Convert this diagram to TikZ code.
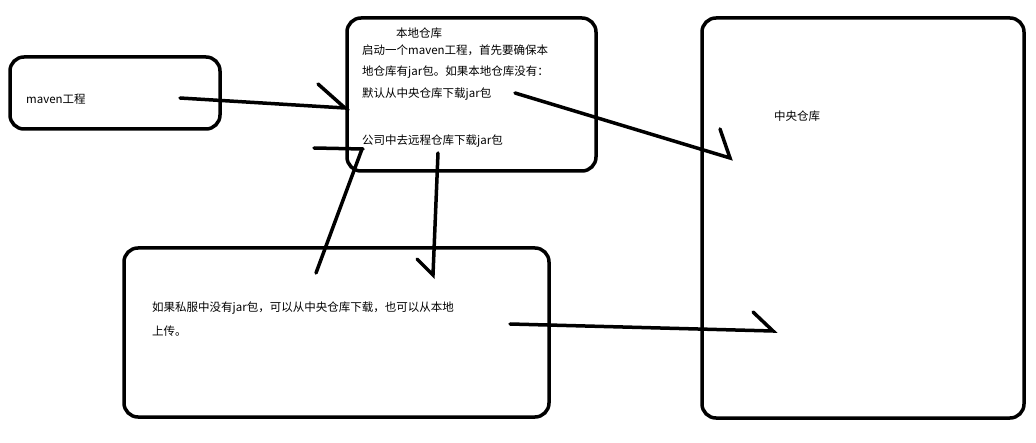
\documentclass[tikz,border=0pt]{standalone}
\usepackage{fontspec}
\setmainfont{Noto Sans CJK SC}
\begin{document}
\begin{tikzpicture}[x=1pt,y=-1pt,
  box/.style={draw,line width=3.5pt,rounded corners=14pt},
  pen/.style={line width=3.5pt,line cap=round},
  lbl/.style={anchor=west,inner sep=0pt,font=\fontsize{11.5}{13}\selectfont}]
\useasboundingbox (0,0) rectangle (1036,443);
\draw[box] (10,57) rectangle (220,129);
\draw[box] (347,18) rectangle (596,171);
\draw[box] (124,248) rectangle (549,417);
\draw[box] (702,18) rectangle (1024,418);
\node[lbl] (t1) at (26,99) {maven工程};
\node[lbl] (t2) at (396,33) {本地仓库};
\node[lbl] (t3) at (362,50) {启动一个maven工程，首先要确保本};
\node[lbl] (t4) at (362,72) {地仓库有jar包。如果本地仓库没有：};
\node[lbl] (t5) at (362,94) {默认从中央仓库下载jar包};
\node[lbl] (t6) at (362,141) {公司中去远程仓库下载jar包};
\node[lbl] (t7) at (774,116) {中央仓库};
\node[lbl] (t8) at (152,308) {如果私服中没有jar包，可以从中央仓库下载，也可以从本地};
\node[lbl] (t9) at (152,331) {上传。};
\coordinate (a1s) at (180,98); \coordinate (a1e) at (345,108); \coordinate (a1t) at (318,84);
\coordinate (a2s) at (515,93); \coordinate (a2e) at (730,158); \coordinate (a2t) at (720,129);
\coordinate (a3s) at (314,148); \coordinate (a3e) at (363,149);
\coordinate (a4s) at (362,149); \coordinate (a4e) at (316,273);
\coordinate (a5s) at (438,153); \coordinate (a5e) at (433,275); \coordinate (a5t) at (417,259);
\coordinate (a6s) at (510,324); \coordinate (a6e) at (773,331); \coordinate (a6t) at (753,312);
\draw[pen] (a1s) -- (a1e) -- (a1t);
\draw[pen] (a2s) -- (a2e) -- (a2t);
\draw[pen] (a3s) -- (a3e);
\draw[pen] (a4s) -- (a4e);
\draw[pen] (a5s) -- (a5e) -- (a5t);
\draw[pen] (a6s) -- (a6e) -- (a6t);
\end{tikzpicture}
\end{document}
